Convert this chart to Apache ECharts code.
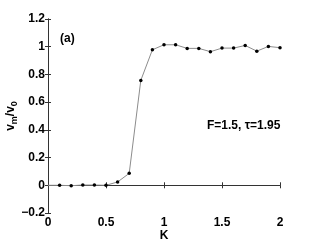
<!DOCTYPE html>
<html>
<head>
<meta charset="utf-8">
<script src="https://cdn.jsdelivr.net/npm/echarts@6/dist/echarts.min.js"></script>
<style>
html,body{margin:0;padding:0;background:#fff;}
#chart{width:310px;height:244px;}
</style>
</head>
<body>
<div id="chart"></div>
<script>
var kValues = [0, 0.1, 0.2, 0.3, 0.4, 0.5, 0.6, 0.7, 0.8, 0.9, 1.0, 1.1, 1.2, 1.3, 1.4, 1.5, 1.6, 1.7, 1.8, 1.9, 2.0];
var vRatio  = [0, 0, -0.003, 0.002, 0.002, 0, 0.024, 0.086, 0.757, 0.978, 1.014, 1.014, 0.988, 0.988, 0.964, 0.99, 0.99, 1.009, 0.968, 1.002, 0.993];
var xTicks = [0, 0.5, 1, 1.5, 2];
var yTicks = [-0.2, 0, 0.2, 0.4, 0.6, 0.8, 1, 1.2];
var annotationA = '(a)';
var annotationParams = 'F=1.5, \u03c4=1.95';

var font = '"Liberation Sans", Arial, Helvetica, sans-serif';
var chart = echarts.init(document.getElementById('chart'), null, {renderer: 'canvas'});
var fmt = function (v) { return String(Math.round(v * 10) / 10).replace('-', '\u2212'); };
var axisCommon = {
  axisLine: {show: true, lineStyle: {color: '#333', width: 1}},
  axisTick: {show: true, inside: true, length: 3, lineStyle: {color: '#333'}},
  splitLine: {show: false}
};
chart.setOption({
  animation: false,
  grid: {left: 48, right: 30, top: 19, bottom: 31, containLabel: false, outerBoundsMode: 'none'},
  xAxis: [
    Object.assign({
      type: 'value', min: 0, max: 2, interval: 0.5, position: 'bottom',
      name: 'K', nameLocation: 'middle', nameGap: 17, nameMoveOverlap: false,
      nameTextStyle: {fontFamily: font, fontWeight: 'bold', fontSize: 12, color: '#000'},
      axisLabel: {fontFamily: font, fontWeight: 'bold', fontSize: 12, color: '#000', margin: 4, formatter: fmt}
    }, axisCommon),
    Object.assign({
      type: 'value', min: 0, max: 2, interval: 0.5, position: 'top',
      axisLabel: {show: false}
    }, axisCommon)
  ],
  yAxis: [
    Object.assign({
      type: 'value', min: -0.2, max: 1.2, interval: 0.2, position: 'left',
      name: '{v|v}{s|m}{v|/v}{s|0}', nameLocation: 'middle', nameGap: 30, nameRotate: 90, nameMoveOverlap: false,
      nameTextStyle: {
        fontFamily: font, fontWeight: 'bold', fontSize: 12, color: '#000',
        rich: {
          v: {fontFamily: font, fontWeight: 'bold', fontSize: 12, color: '#000', lineHeight: 14},
          s: {fontFamily: font, fontWeight: 'bold', fontSize: 9, color: '#000', padding: [7, 0, 0, 0], lineHeight: 14}
        }
      },
      axisLabel: {fontFamily: font, fontWeight: 'bold', fontSize: 12, color: '#000', margin: 3, formatter: fmt}
    }, axisCommon),
    Object.assign({
      type: 'value', min: -0.2, max: 1.2, interval: 0.2, position: 'right',
      axisLabel: {show: false}
    }, axisCommon)
  ],
  series: [{
    type: 'line',
    data: kValues.map(function (k, i) { return [k, vRatio[i]]; }),
    lineStyle: {color: '#8c8c8c', width: 1},
    symbol: 'circle',
    symbolSize: function (v, p) { return p.dataIndex === 0 ? 0 : 3.5; },
    itemStyle: {color: '#000'},
    clip: false
  }],
  graphic: [
    {type: 'text', left: 60, top: 33, style: {text: annotationA, font: 'bold 12px ' + font, fill: '#000'}},
    {type: 'text', left: 207, top: 120, style: {text: annotationParams, font: 'bold 12px ' + font, fill: '#000'}}
  ]
});
</script>
</body>
</html>
